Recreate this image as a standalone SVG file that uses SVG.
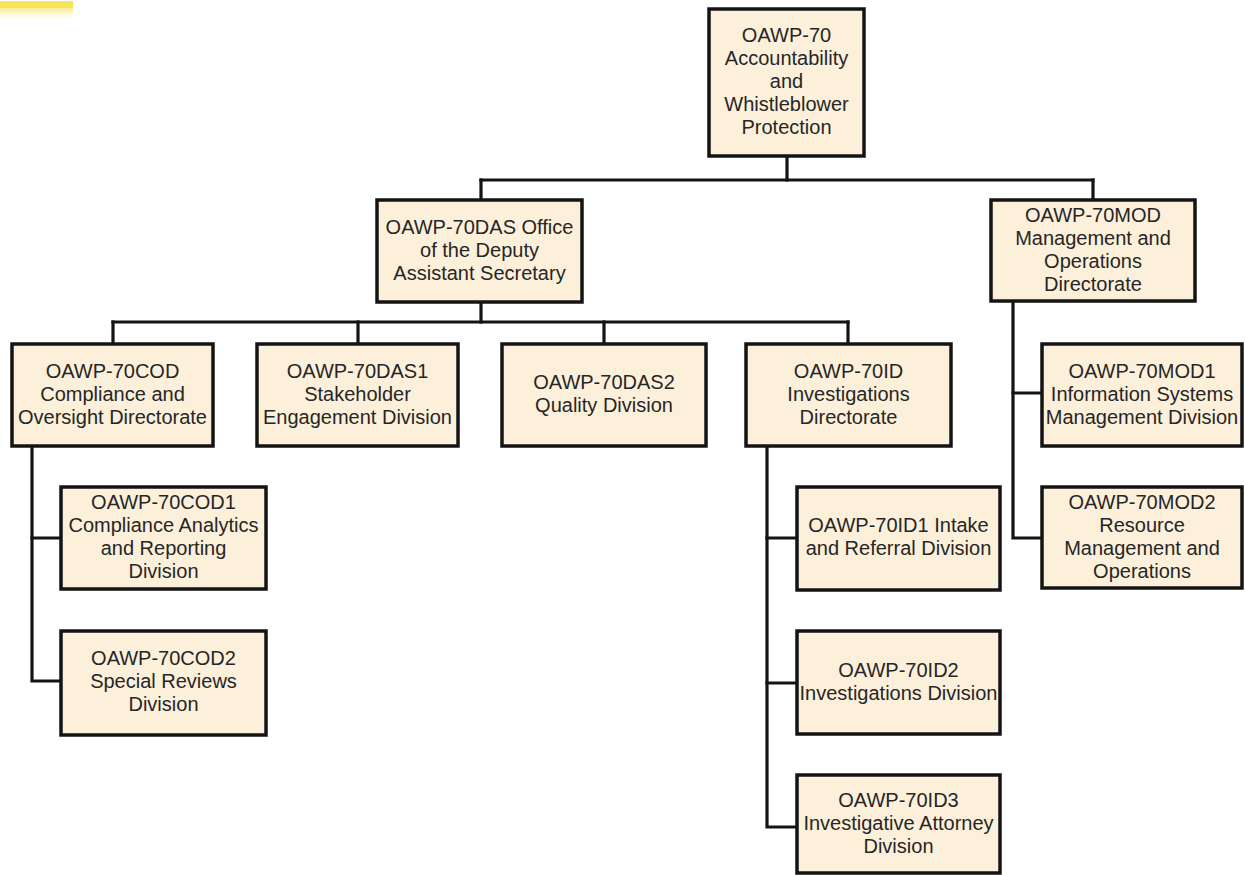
<svg xmlns="http://www.w3.org/2000/svg" width="1245" height="875" viewBox="0 0 1245 875">
  <defs>
    <linearGradient id="fade" x1="0" y1="0" x2="0" y2="1">
      <stop offset="0" stop-color="#f8e45c" stop-opacity="0.7"/>
      <stop offset="1" stop-color="#fbeecf" stop-opacity="0"/>
    </linearGradient>
    <style>
      .box { fill: #fdf0da; stroke: #141414; stroke-width: 3.5; }
      .lbl { font-family: "Liberation Sans", Arial, sans-serif; font-size: 20px; fill: #262626; text-anchor: middle; }
      .wire { fill: none; stroke: #141414; stroke-width: 3.2; stroke-linecap: square; }
    </style>
  </defs>
  <rect width="1245" height="875" fill="#ffffff"/>

  <!-- highlight strip in the corner -->
  <rect x="0" y="1" width="73" height="7" fill="#f8e45c"/>
  <rect x="0" y="8" width="73" height="12" fill="url(#fade)"/>

  <!-- connectors -->
  <g id="connectors" class="wire">
    <path d="M787 156 V180"/>
    <path d="M481 180 H1093"/>
    <path d="M481 180 V200"/>
    <path d="M1093 180 V200"/>
    <path d="M481 302 V322"/>
    <path d="M113 322 H848"/>
    <path d="M113 322 V344"/>
    <path d="M358 322 V344"/>
    <path d="M604 322 V344"/>
    <path d="M848 322 V344"/>
    <path d="M32 446 V681 H61"/>
    <path d="M32 538 H61"/>
    <path d="M767 446 V827 H797"/>
    <path d="M767 538 H797"/>
    <path d="M767 683 H797"/>
    <path d="M1013 301 V538 H1042"/>
    <path d="M1013 393 H1042"/>
  </g>

  <g id="n-oawp70">
    <rect class="box" x="709" y="9" width="155" height="147"/>
    <text class="lbl"><tspan x="786.5" y="42">OAWP-70</tspan><tspan x="786.5" y="65">Accountability</tspan><tspan x="786.5" y="88">and</tspan><tspan x="786.5" y="111">Whistleblower</tspan><tspan x="786.5" y="134">Protection</tspan></text>
  </g>

  <g id="n-das">
    <rect class="box" x="377" y="200" width="205" height="102"/>
    <text class="lbl"><tspan x="479.5" y="233.5">OAWP-70DAS Office</tspan><tspan x="479.5" y="256.5">of the Deputy</tspan><tspan x="479.5" y="279.5">Assistant Secretary</tspan></text>
  </g>

  <g id="n-mod">
    <rect class="box" x="991" y="200" width="204" height="101"/>
    <text class="lbl"><tspan x="1093" y="221.5">OAWP-70MOD</tspan><tspan x="1093" y="244.5">Management and</tspan><tspan x="1093" y="267.5">Operations</tspan><tspan x="1093" y="290.5">Directorate</tspan></text>
  </g>

  <g id="n-cod">
    <rect class="box" x="12" y="344" width="201" height="102"/>
    <text class="lbl"><tspan x="112.5" y="377.5">OAWP-70COD</tspan><tspan x="112.5" y="400.5">Compliance and</tspan><tspan x="112.5" y="423.5">Oversight Directorate</tspan></text>
  </g>

  <g id="n-das1">
    <rect class="box" x="257" y="344" width="201" height="102"/>
    <text class="lbl"><tspan x="357.5" y="377.5">OAWP-70DAS1</tspan><tspan x="357.5" y="400.5">Stakeholder</tspan><tspan x="357.5" y="423.5">Engagement Division</tspan></text>
  </g>

  <g id="n-das2">
    <rect class="box" x="502" y="344" width="204" height="102"/>
    <text class="lbl"><tspan x="604" y="389">OAWP-70DAS2</tspan><tspan x="604" y="412">Quality Division</tspan></text>
  </g>

  <g id="n-id">
    <rect class="box" x="746" y="344" width="205" height="102"/>
    <text class="lbl"><tspan x="848.5" y="377.5">OAWP-70ID</tspan><tspan x="848.5" y="400.5">Investigations</tspan><tspan x="848.5" y="423.5">Directorate</tspan></text>
  </g>

  <g id="n-mod1">
    <rect class="box" x="1042" y="344" width="200" height="102"/>
    <text class="lbl"><tspan x="1142" y="377.5">OAWP-70MOD1</tspan><tspan x="1142" y="400.5">Information Systems</tspan><tspan x="1142" y="423.5">Management Division</tspan></text>
  </g>

  <g id="n-cod1">
    <rect class="box" x="61" y="487" width="205" height="102"/>
    <text class="lbl"><tspan x="163.5" y="509">OAWP-70COD1</tspan><tspan x="163.5" y="532">Compliance Analytics</tspan><tspan x="163.5" y="555">and Reporting</tspan><tspan x="163.5" y="578">Division</tspan></text>
  </g>

  <g id="n-id1">
    <rect class="box" x="797" y="487" width="203" height="103"/>
    <text class="lbl"><tspan x="898.5" y="532">OAWP-70ID1 Intake</tspan><tspan x="898.5" y="555">and Referral Division</tspan></text>
  </g>

  <g id="n-mod2">
    <rect class="box" x="1042" y="487" width="200" height="101"/>
    <text class="lbl"><tspan x="1142" y="509">OAWP-70MOD2</tspan><tspan x="1142" y="532">Resource</tspan><tspan x="1142" y="555">Management and</tspan><tspan x="1142" y="578">Operations</tspan></text>
  </g>

  <g id="n-cod2">
    <rect class="box" x="61" y="631" width="205" height="104"/>
    <text class="lbl"><tspan x="163.5" y="665">OAWP-70COD2</tspan><tspan x="163.5" y="688">Special Reviews</tspan><tspan x="163.5" y="711">Division</tspan></text>
  </g>

  <g id="n-id2">
    <rect class="box" x="797" y="631" width="203" height="103"/>
    <text class="lbl"><tspan x="898.5" y="676.5">OAWP-70ID2</tspan><tspan x="898.5" y="699.5">Investigations Division</tspan></text>
  </g>

  <g id="n-id3">
    <rect class="box" x="797" y="775" width="203" height="98"/>
    <text class="lbl"><tspan x="898.5" y="806.5">OAWP-70ID3</tspan><tspan x="898.5" y="829.5">Investigative Attorney</tspan><tspan x="898.5" y="852.5">Division</tspan></text>
  </g>
</svg>
